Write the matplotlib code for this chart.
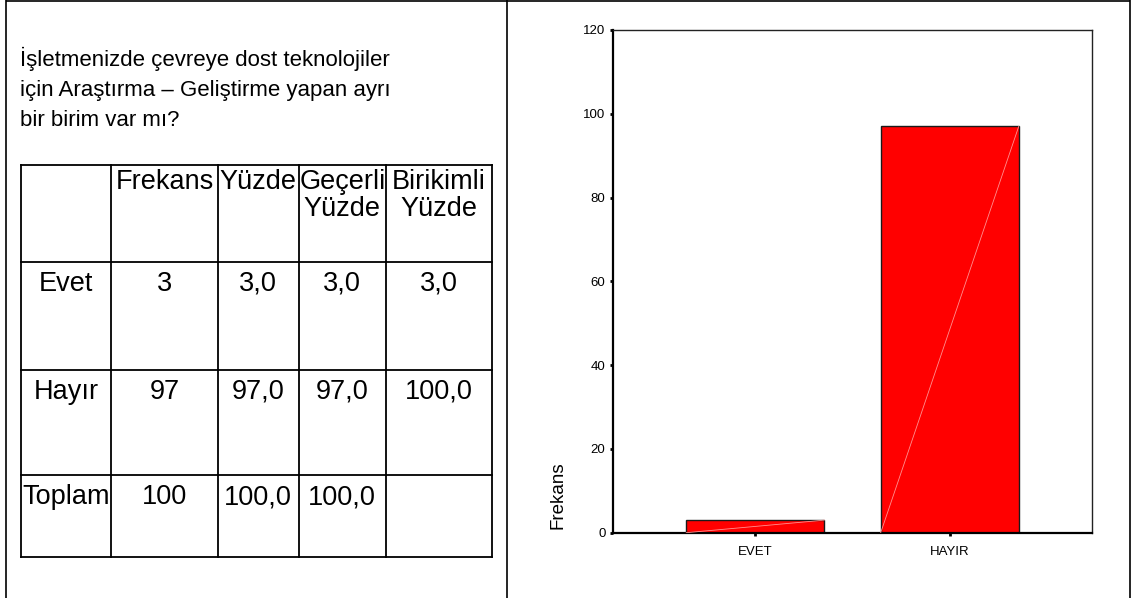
import matplotlib.pyplot as plt

# survey question and frequency table (left panel)
question = "İşletmenizde çevreye dost teknolojiler\niçin Araştırma – Geliştirme yapan ayrı\nbir birim var mı?"
col_headers = ['Frekans', 'Yüzde', 'Geçerli\nYüzde', 'Birikimli\nYüzde']
row_labels = ['Evet', 'Hayır', 'Toplam']
table_cells = [['3', '3,0', '3,0', '3,0'],
               ['97', '97,0', '97,0', '100,0'],
               ['100', '100,0', '100,0', '']]

# bar chart (right panel)
categories = ['EVET', 'HAYIR']
frequencies = [3, 97]
y_ticks = [0, 20, 40, 60, 80, 100, 120]

W, H = 1131, 598
fig = plt.figure(figsize=(W / 100, H / 100), dpi=100)
fig.patch.set_facecolor('white')

# overlay in pixel coordinates for the frame, question text and table
ov = fig.add_axes([0, 0, 1, 1])
ov.set_xlim(0, W)
ov.set_ylim(H, 0)
ov.axis('off')
ov.patch.set_visible(False)

frame_kw = dict(color='black', lw=1.2, solid_capstyle='butt')
ov.plot([5.7, 5.7], [0, H], **frame_kw)
ov.plot([5.7, 1130], [1, 1], **frame_kw)
ov.plot([1130, 1130], [0, H], **frame_kw)
ov.plot([506.7, 506.7], [0, H], **frame_kw)

txt_font = ['Liberation Sans', 'DejaVu Sans']
for i, line in enumerate(question.split('\n')):
    ov.text(20, 66 + 30 * i, line, fontsize=16, family=txt_font,
            ha='left', va='baseline')

col_edges = [20.7, 111, 218, 298.6, 386, 492]
row_edges = [165, 262, 370, 475, 557]
grid_kw = dict(color='black', lw=1.3, solid_capstyle='projecting')
for x in col_edges:
    ov.plot([x, x], [row_edges[0], row_edges[-1]], **grid_kw)
for y in row_edges:
    ov.plot([col_edges[0], col_edges[-1]], [y, y], **grid_kw)

cell_fs = 19.5
for j, head in enumerate(col_headers):
    cx = (col_edges[j + 1] + col_edges[j + 2]) / 2
    for k, part in enumerate(head.split('\n')):
        ov.text(cx, row_edges[0] + 24 + 27 * k, part, fontsize=cell_fs,
                family=txt_font, ha='center', va='baseline')
for i, lab in enumerate(row_labels):
    base = row_edges[i + 1] + 29
    cx = (col_edges[0] + col_edges[1]) / 2
    ov.text(cx, base, lab, fontsize=cell_fs, family=txt_font,
            ha='center', va='baseline')
    for j, val in enumerate(table_cells[i]):
        cx = (col_edges[j + 1] + col_edges[j + 2]) / 2
        ov.text(cx, base, val, fontsize=cell_fs, family=txt_font,
                ha='center', va='baseline')

# chart
ax = fig.add_axes([613.3 / W, (H - 532.7) / H, 478.4 / W, 502.7 / H])
pos = [1, 2]
bar_w = 0.71
ax.bar(pos, frequencies, width=bar_w, color='#ff0000', edgecolor='#1a1a1a',
       linewidth=1.0, zorder=2)
for p, v in zip(pos, frequencies):
    ax.plot([p - bar_w / 2, p + bar_w / 2], [0, v], color='#ff9090',
            lw=0.6, zorder=3)

ax.set_xlim(0.27, 2.73)
ax.set_ylim(0, 120)
ax.set_yticks(y_ticks)
ax.set_xticks(pos)
narrow = ['Liberation Sans Narrow', 'Liberation Sans', 'DejaVu Sans']
ax.set_xticklabels(categories, family=narrow, fontsize=9.5)
ax.set_yticklabels([str(t) for t in y_ticks], family=narrow, fontsize=9.5)
ax.tick_params(axis='y', direction='out', length=2.2, width=2, pad=3.5)
ax.tick_params(axis='x', direction='out', length=2.2, width=2, pad=7.5)

for s in ['left', 'bottom']:
    ax.spines[s].set_linewidth(1.6)
for s in ['top', 'right']:
    ax.spines[s].set_linewidth(1.0)
    ax.spines[s].set_color('#222222')

ax.set_ylabel('Frekans', fontsize=13.5, family=txt_font)
ax.yaxis.set_label_coords(-0.097, 0.075)

fig.savefig('out.png', dpi=100)
